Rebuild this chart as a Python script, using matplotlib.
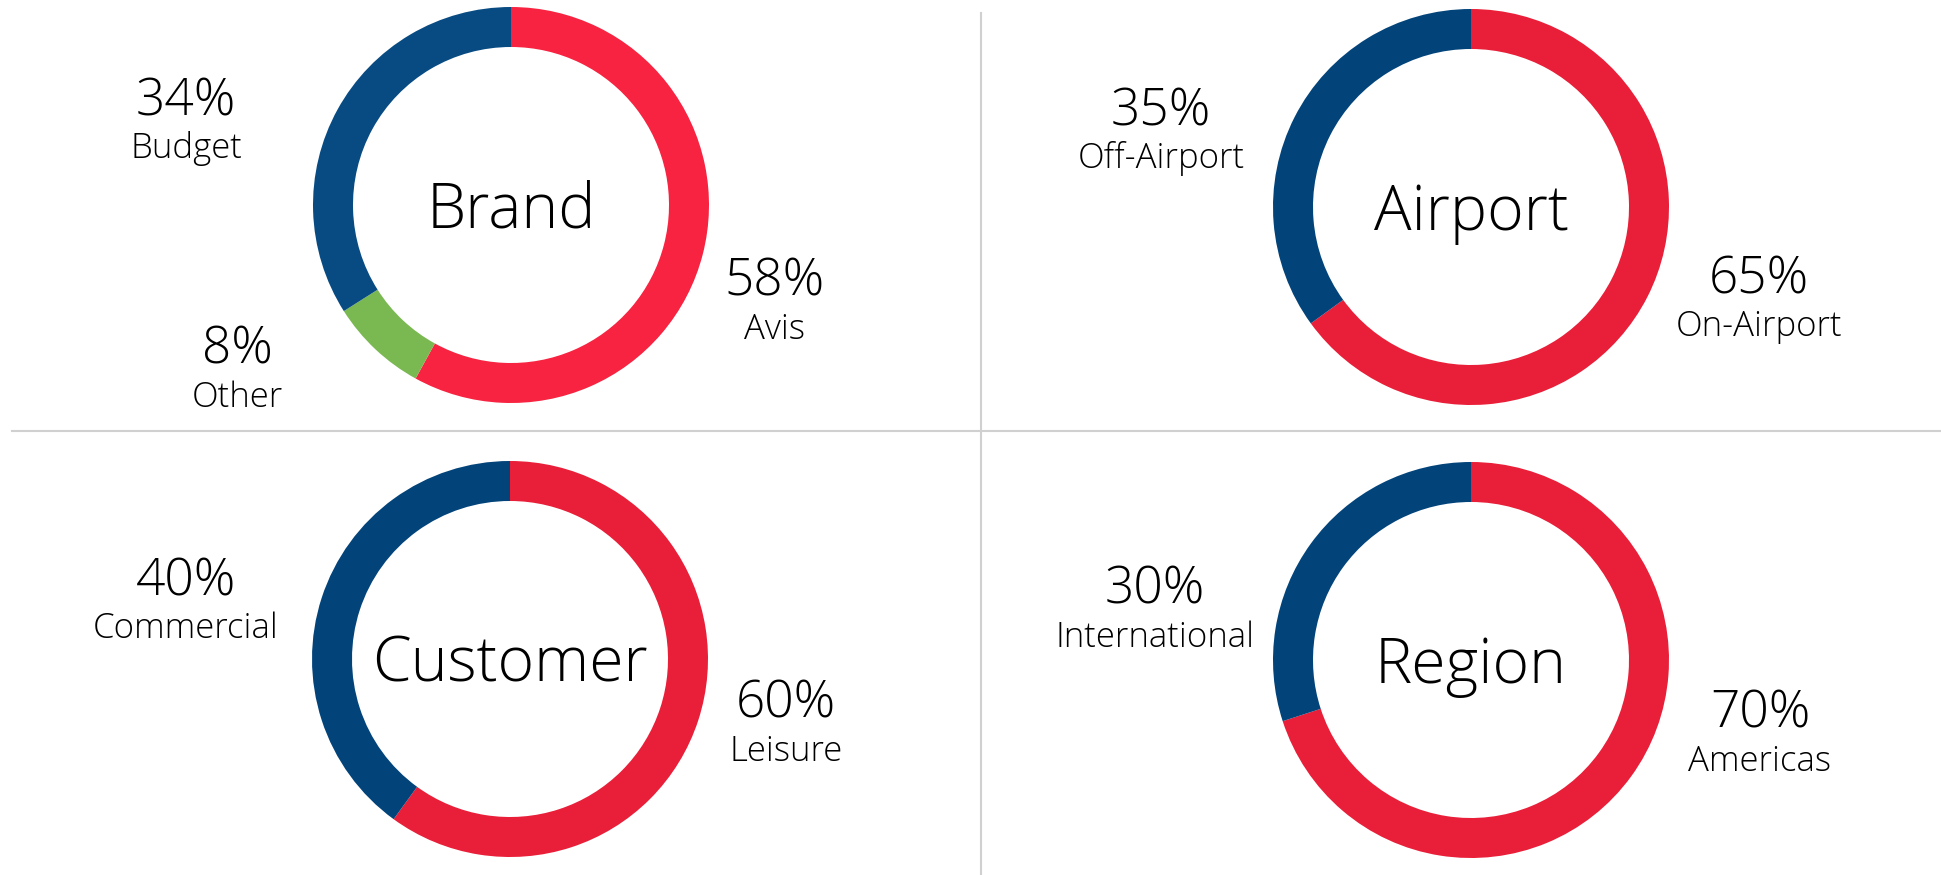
import matplotlib.pyplot as plt

# data
brand_labels = ["Avis", "Other", "Budget"]
brand_values = [58, 8, 34]
brand_colors = ["#F72340", "#7AB851", "#084B82"]

airport_labels = ["On-Airport", "Off-Airport"]
airport_values = [65, 35]

customer_labels = ["Leisure", "Commercial"]
customer_values = [60, 40]

region_labels = ["Americas", "International"]
region_values = [70, 30]

other_colors = ["#E91E38", "#02437A"]

W, H = 1941, 875
FONT = ["Open Sans", "DejaVu Sans"]
R_OUT = 198
R_WIDTH = 40

fig = plt.figure(figsize=(W / 100, H / 100), dpi=100)
ax = fig.add_axes([0, 0, 1, 1])


def py(y):
    # pixel row -> data y (y up)
    return H - y


def donut(cx, cy, values, colors, title):
    ax.pie(values, colors=colors, startangle=90, counterclock=False,
           center=(cx, py(cy)), radius=R_OUT,
           wedgeprops=dict(width=R_WIDTH, linewidth=0))
    ax.text(cx, py(cy) - 23, title, ha="center", va="baseline",
            fontsize=45, family=FONT, fontweight="light")


def label(x, y_base, value, name):
    ax.text(x, py(y_base), f"{value}%", ha="center", va="baseline",
            fontsize=37, family=FONT, fontweight="light")
    ax.text(x, py(y_base + 43), name, ha="center", va="baseline",
            fontsize=25, family=FONT, fontweight="light")


donut(511, 205, brand_values, brand_colors, "Brand")
label(775, 296, brand_values[0], brand_labels[0])
label(237, 364, brand_values[1], brand_labels[1])
label(186, 115, brand_values[2], brand_labels[2])

donut(1471, 207, airport_values, other_colors, "Airport")
label(1759, 293, airport_values[0], airport_labels[0])
label(1161, 125, airport_values[1], airport_labels[1])

donut(510, 659, customer_values, other_colors, "Customer")
label(786, 718, customer_values[0], customer_labels[0])
label(186, 595, customer_values[1], customer_labels[1])

donut(1471, 660, region_values, other_colors, "Region")
label(1760, 728, region_values[0], region_labels[0])
label(1155, 604, region_values[1], region_labels[1])

# grid dividers
ax.plot([12, W], [py(431), py(431)], color="#D0D0D0", lw=1.5)
ax.plot([981, 981], [py(13), py(H)], color="#D0D0D0", lw=1.5)

ax.set_xlim(0, W)
ax.set_ylim(0, H)
ax.set_aspect("equal")
ax.axis("off")

fig.savefig("out.png", dpi=100, facecolor="white")
